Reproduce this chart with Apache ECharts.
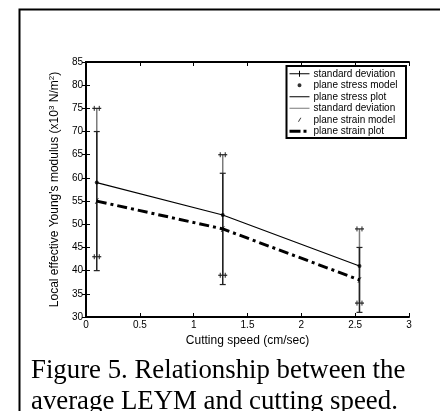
<!DOCTYPE html>
<html>
<head>
<meta charset="utf-8">
<script src="https://cdn.jsdelivr.net/npm/echarts@6/dist/echarts.min.js"></script>
<style>
html,body{margin:0;padding:0;background:#fff;}
#chart{width:440px;height:411px;}
</style>
</head>
<body>
<div id="chart"></div>
<script>
// ---- data ----
const speeds = [0.1, 1.27, 2.54];
const stressModel = [59, 52, 41];
const strainModel = [55, 49, 38];
const stressStdLow = [43, 39, 33];
const stressStdHigh = [75, 65, 49];
const strainStdLow = [40, 37, 31];
const strainStdHigh = [70, 61, 45];
const xTicks = {min: 0, max: 3, interval: 0.5};
const yTicks = {min: 30, max: 85, interval: 5};
const legendNames = ['standard deviation', 'plane stress model', 'plane stress plot',
  'standard deviation ', 'plane strain model', 'plane strain plot'];

const chart = echarts.init(document.getElementById('chart'), null, {renderer: 'canvas'});

function pairs(xs, ys) { return xs.map((x, i) => [x, ys[i]]); }
function triples(xs, lo, hi) { return xs.map((x, i) => [x, lo[i], hi[i]]); }

function errRender(color, capColor, doubleCap) {
  return function (params, api) {
    const x = api.value(0), lo = api.value(1), hi = api.value(2);
    const pLo = api.coord([x, lo]), pHi = api.coord([x, hi]);
    const st = {stroke: color, lineWidth: 1.5};
    const cst = {stroke: capColor, lineWidth: 1.2};
    const ch = [{type: 'line', shape: {x1: pLo[0], y1: pLo[1], x2: pHi[0], y2: pHi[1]}, style: st}];
    [pLo, pHi].forEach(p => {
      const w = doubleCap ? 4.5 : 3;
      ch.push({type: 'line', shape: {x1: p[0] - w, y1: p[1], x2: p[0] + w, y2: p[1]}, style: cst});
      if (doubleCap) {
        [-2.5, 2.5].forEach(d => ch.push({type: 'line',
          shape: {x1: p[0] + d, y1: p[1] - 2.5, x2: p[0] + d, y2: p[1] + 2.5}, style: {stroke: capColor, lineWidth: 1}}));
      }
    });
    return {type: 'group', children: ch};
  };
}

// legend icons (20x8 boxes; tiny corner dots keep bounding box)
const box = 'M0,0 L0.01,0 L0.01,0.01 Z M19.99,7.99 L20,7.99 L20,8 Z ';
const iconStdBlack = 'path://' + box + 'M0,3.5 L20,3.5 L20,4.5 L0,4.5 Z M9.5,1 L10.5,1 L10.5,7 L9.5,7 Z';
const iconStdGray = 'path://' + box + 'M0,3.4 L20,3.4 L20,4.6 L0,4.6 Z';
const iconLine = 'path://' + box + 'M0,3.5 L20,3.5 L20,4.5 L0,4.5 Z';
const iconDashDot = 'path://' + box + 'M0,2.5 L11,2.5 L11,5.5 L0,5.5 Z M14,2.5 L17,2.5 L17,5.5 L14,5.5 Z';
const iconDot = 'path://' + box + 'M12,4 A2,2 0 1,0 8,4 A2,2 0 1,0 12,4 Z';
const iconSlash = 'path://' + box + 'M8.4,6 L10.9,2 L11.9,2 L9.4,6 Z';

const axisCommon = {
  axisLine: {lineStyle: {color: '#000', width: 2}},
  axisTick: {inside: true, length: 4, lineStyle: {color: '#000', width: 1}},
  splitLine: {show: false},
  axisLabel: {color: '#000', fontSize: 10, fontFamily: 'Liberation Sans'}
};

const option = {
  animation: false,
  backgroundColor: '#fff',
  textStyle: {fontFamily: 'Liberation Sans'},
  title: {
    text: 'Figure 5. Relationship between the\naverage LEYM and cutting speed.',
    left: 31, top: 355, padding: 0,
    textStyle: {fontFamily: 'Liberation Serif', fontSize: 26.8, fontWeight: 'normal', color: '#000', lineHeight: 31}
  },
  graphic: [{
    type: 'rect', left: 17, top: 7, silent: true,
    shape: {width: 422, height: 430},
    style: {fill: 'none', stroke: '#000', lineWidth: 2}
  }],
  grid: {left: 86, top: 62, right: 31, bottom: 94},
  legend: {
    orient: 'vertical', right: 34, top: 66,
    backgroundColor: '#fff', borderColor: '#000', borderWidth: 2,
    padding: [2, 8, 1, 3], itemGap: 0, itemWidth: 20, itemHeight: 8,
    textStyle: {fontSize: 10, color: '#000', fontFamily: 'Liberation Sans', lineHeight: 11.5, padding: [0, 0, 0, -1]},
    data: [
      {name: legendNames[0], icon: iconStdBlack},
      {name: legendNames[1], icon: iconDot},
      {name: legendNames[2], icon: iconLine},
      {name: legendNames[3], icon: iconStdGray},
      {name: legendNames[4], icon: iconSlash},
      {name: legendNames[5], icon: iconDashDot}
    ]
  },
  xAxis: [
    Object.assign({}, axisCommon, {type: 'value', position: 'bottom', min: xTicks.min, max: xTicks.max, interval: xTicks.interval,
      name: 'Cutting speed (cm/sec)', nameLocation: 'middle', nameGap: 14,
      nameTextStyle: {color: '#000', fontSize: 12, fontFamily: 'Liberation Sans'},
      axisLabel: Object.assign({}, axisCommon.axisLabel, {margin: 3})}),
    Object.assign({}, axisCommon, {type: 'value', position: 'top', min: xTicks.min, max: xTicks.max, interval: xTicks.interval,
      axisLabel: {show: false}})
  ],
  yAxis: [
    Object.assign({}, axisCommon, {type: 'value', position: 'left', min: yTicks.min, max: yTicks.max, interval: yTicks.interval,
      name: 'Local effective Young\'s modulus (x10{sup|3} N/m{sup|2})', nameLocation: 'middle', nameGap: 16, nameRotate: 90,
      nameTextStyle: {color: '#000', fontSize: 12, fontFamily: 'Liberation Sans',
        rich: {sup: {fontSize: 8, color: '#000', fontFamily: 'Liberation Sans', padding: [0, 0, 7, 0]}}},
      axisLabel: Object.assign({}, axisCommon.axisLabel, {margin: 3})}),
    Object.assign({}, axisCommon, {type: 'value', position: 'right', min: yTicks.min, max: yTicks.max, interval: yTicks.interval,
      axisLabel: {show: false}})
  ],
  series: [
    {name: legendNames[3], type: 'custom', renderItem: errRender('#7a7a7a', '#222', true),
      itemStyle: {color: '#7a7a7a'}, data: triples(speeds, stressStdLow, stressStdHigh), z: 2},
    {name: legendNames[0], type: 'custom', renderItem: errRender('#222', '#222', false),
      itemStyle: {color: '#000'}, data: triples(speeds, strainStdLow, strainStdHigh), z: 3},
    {name: legendNames[2], type: 'line', data: pairs(speeds, stressModel), showSymbol: false, symbol: 'none',
      lineStyle: {color: '#000', width: 1.2}, itemStyle: {color: '#000'}, z: 4},
    {name: legendNames[5], type: 'line', data: pairs(speeds, strainModel), showSymbol: false, symbol: 'none',
      lineStyle: {color: '#000', width: 3, type: [10, 4, 3, 4], cap: 'butt'}, itemStyle: {color: '#000'}, z: 4},
    {name: legendNames[1], type: 'scatter', data: pairs(speeds, stressModel), symbol: 'circle', symbolSize: 4,
      itemStyle: {color: '#000'}, z: 5},
    {name: legendNames[4], type: 'scatter', data: pairs(speeds, strainModel),
      symbol: 'path://M0,10 L6,0 L7.5,0 L1.5,10 Z', symbolSize: [4, 6], itemStyle: {color: '#000'}, z: 5}
  ]
};
chart.setOption(option);
</script>
</body>
</html>
